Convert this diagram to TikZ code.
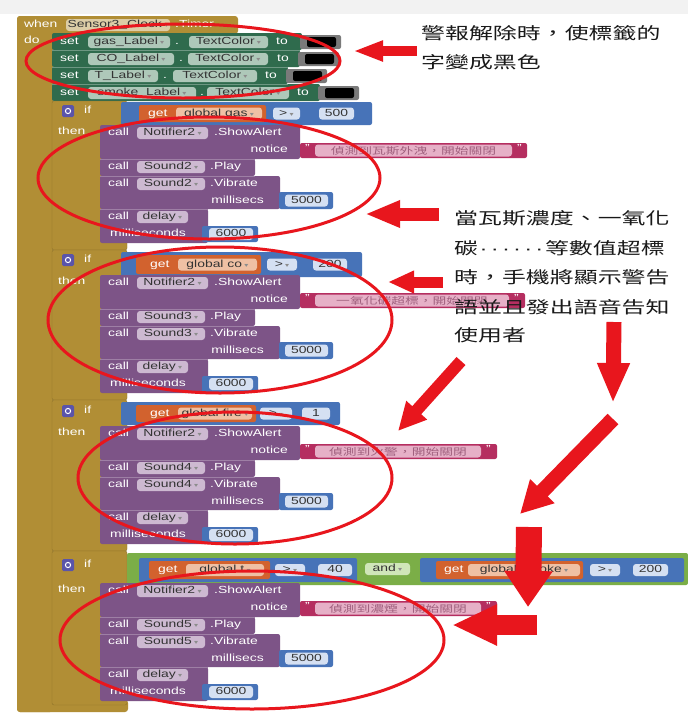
\documentclass[tikz,border=0pt]{standalone}
\usepackage{fontspec}
\usepackage{graphicx}
\setmainfont{Liberation Sans}
\newfontfamily\cjk{Noto Sans CJK TC}
\newfontfamily\dv{DejaVu Sans}
\newfontfamily\lib{Liberation Sans}
\usetikzlibrary{arrows.meta}
\definecolor{mus}{HTML}{B18E35}
\definecolor{musf}{HTML}{DCCDA6}
\definecolor{grn}{HTML}{2F6B4D}
\definecolor{grnf}{HTML}{AEC8B9}
\definecolor{pur}{HTML}{7D5487}
\definecolor{purf}{HTML}{CDB9D1}
\definecolor{blu}{HTML}{4773B8}
\definecolor{bluf}{HTML}{D5E0F2}
\definecolor{org}{HTML}{D2622E}
\definecolor{orgf}{HTML}{EFC0A4}
\definecolor{pnk}{HTML}{B52E60}
\definecolor{pnkf}{HTML}{E6B0C7}
\definecolor{pnkt}{HTML}{A0607E}
\definecolor{lgr}{HTML}{7BAE47}
\definecolor{lgrf}{HTML}{D0E6B9}
\definecolor{gearc}{HTML}{5A54AA}
\definecolor{redA}{HTML}{E8161D}
\definecolor{colg}{HTML}{7A7A7A}
\newcommand\hs[1]{\scalebox{1.35}[1]{#1}}
\newcommand\hc[1]{\scalebox{1.45}[1]{#1}}
\newcommand\dn{\,{\dv\fontsize{6}{6}\selectfont\textcolor{black!45}{▾}}}
\newcommand\mdt{{\lib\kern1.1pt·\kern1.1pt}}
\newcommand\tx[4]{\node[tx] (#1) at (#2,#3) {\hs{#4}};}
\newcommand\txe[4]{\node[tx,anchor=east] (#1) at (#2,#3) {\hs{#4}};}
\newcommand\fld[6]{\fill[#5,rounded corners=3pt] (#2,#4-6) rectangle (#3,#4+6);
  \node[ft] (#1) at ({(#2+#3)/2},#4) {\hs{#6}};}
\newcommand\ifhead[3]{% id, y of text
  \fill[gearc,rounded corners=1.5pt] (62,#2-6) rectangle (74,#2+6);
  \draw[white,line width=1pt] (68,#2) circle (2.6pt);
  \tx{if#1}{84}{#2}{if}}
\newcommand\ifbody[6]{% id, base, sound, pink right, pink field right, pink text
  \fill[pur,rounded corners=2pt] (100,#2) rectangle (300,#2+34);
  \fill[pur,rounded corners=2pt] (100,#2+34) rectangle (255,#2+51);
  \fill[pur,rounded corners=2pt] (100,#2+51) rectangle (280,#2+84);
  \fill[pur,rounded corners=2pt] (100,#2+84) rectangle (208,#2+118);
  \draw[pur!75!white,line width=.5pt] (100,#2+34) -- (255,#2+34) (100,#2+51) -- (255,#2+51) (100,#2+84) -- (208,#2+84);
  \tx{th#1}{58}{#2+7}{then}
  \tx{ca#1}{108}{#2+8}{call}
  \fld{no#1}{137}{208}{#2+8}{purf}{Notifier2\dn}
  \tx{sa#1}{214}{#2+8}{.ShowAlert}
  \txe{nt#1}{288}{#2+25}{notice}
  \fill[pnk,rounded corners=2pt] (300,#2+18) rectangle (#4,#2+33);
  \node[tx] (qa#1) at (305,#2+23.5) {\hs{"}};
  \fill[pnkf,rounded corners=3pt] (315,#2+19.5) rectangle (#5,#2+31.5);
  \node[pt] (pk#1) at ({(315+#5)/2},#2+25.5) {\hc{#6}};
  \node[tx] (qb#1) at (#5+5,#2+23.5) {\hs{"}};
  \tx{cb#1}{108}{#2+42}{call}
  \fld{sa#1x}{137}{205}{#2+42}{purf}{#3\dn}
  \tx{pl#1}{210}{#2+42}{.Play}
  \tx{cc#1}{108}{#2+59}{call}
  \fld{sb#1x}{137}{205}{#2+59}{purf}{#3\dn}
  \tx{vi#1}{210}{#2+59}{.Vibrate}
  \txe{ms#1}{264}{#2+76}{millisecs}
  \fill[blu,rounded corners=2pt] (279,#2+67) rectangle (333,#2+84);
  \fld{va#1}{285}{328}{#2+75.5}{bluf}{5000}
  \tx{cd#1}{108}{#2+92}{call}
  \fld{de#1}{137}{188}{#2+92}{purf}{delay\dn}
  \tx{ml#1}{110}{#2+109}{milliseconds}
  \fill[blu,rounded corners=2pt] (202,#2+101) rectangle (258,#2+117);
  \fld{vb#1}{209}{253}{#2+109}{bluf}{6000}}
\begin{document}
\begin{tikzpicture}[x=1pt,y=-1pt,
  tx/.style={inner sep=0pt,anchor=west,text=white,text height=7pt,text depth=2pt,font=\fontsize{10.3}{11}\selectfont},
  ft/.style={inner sep=0pt,text=black!80,text height=7pt,text depth=2pt,font=\fontsize{10.3}{11}\selectfont},
  pt/.style={inner sep=0pt,text=pnkt,font=\cjk\fontsize{9.5}{10}\selectfont},
  ct/.style={inner sep=0pt,anchor=west,text=black!90,font=\cjk\fontsize{16.5}{18}\selectfont},
  redl/.style={draw=redA,line width=3pt},
  rarr/.style={draw=redA,line cap=butt}]
\useasboundingbox (0,0) rectangle (688,713);
\fill[white] (0,0) rectangle (688,713);
\fill[black!5] (0,0) rectangle (688,14);
% event block
\fill[mus,rounded corners=3pt] (17,16) rectangle (238,34);
\fill[mus,rounded corners=3pt] (17,16) rectangle (53,712);
\fill[mus,rounded corners=3pt] (17,700) rectangle (128,712);
\tx{when}{24}{25}{when}
\fld{evf}{66}{170}{25}{musf}{Sensor3\_Clock\dn}
\tx{evt}{175}{25}{.Timer}
\tx{do}{24}{41}{do}
% set rows
\fill[grn,rounded corners=2pt] (52,33) rectangle (302,50);
\fill[grn,rounded corners=2pt] (52,50) rectangle (300,67);
\fill[grn,rounded corners=2pt] (52,67) rectangle (288,84);
\fill[grn,rounded corners=2pt] (52,84) rectangle (320,101);
\draw[grn!70!white,line width=.5pt] (52,50) -- (300,50) (52,67) -- (288,67) (52,84) -- (288,84);
\tx{s1}{60}{42}{set}
\fld{f1a}{88}{170}{42}{grnf}{gas\_Label\dn}
\tx{d1}{175}{42}{.}
\fld{f1b}{189}{268}{42}{grnf}{TextColor\dn}
\tx{to1}{276}{42}{to}
\fill[colg,rounded corners=2pt] (300,35) rectangle (341,49);
\fill[black,rounded corners=2pt] (307,37) rectangle (336,47);
\tx{s2}{60}{59}{set}
\fld{f2a}{88}{174}{59}{grnf}{CO\_Label\dn}
\tx{d2}{179}{59}{.}
\fld{f2b}{188}{268}{59}{grnf}{TextColor\dn}
\tx{to2}{277}{59}{to}
\fill[colg,rounded corners=2pt] (298,52) rectangle (339,66);
\fill[black,rounded corners=2pt] (305,54) rectangle (334,64);
\tx{s3}{60}{76}{set}
\fld{f3a}{88}{158}{76}{grnf}{T\_Label\dn}
\tx{d3}{163}{76}{.}
\fld{f3b}{173}{257}{76}{grnf}{TextColor\dn}
\tx{to3}{265}{76}{to}
\fill[colg,rounded corners=2pt] (286,69) rectangle (327,83);
\fill[black,rounded corners=2pt] (293,71) rectangle (322,81);
\tx{s4}{60}{93}{set}
\fld{f4a}{88}{196}{93}{grnf}{smoke\_Label\dn}
\tx{d4}{200}{93}{.}
\fld{f4b}{207}{289}{93}{grnf}{TextColor\dn}
\tx{to4}{297}{93}{to}
\fill[colg,rounded corners=2pt] (318,86) rectangle (359,100);
\fill[black,rounded corners=2pt] (325,88) rectangle (354,98);
% if blocks (mustard)
\fill[mus,draw=mus!80!black,line width=.4pt,rounded corners=2pt] (52,101) rectangle (127,250);
\fill[mus,draw=mus!80!black,line width=.4pt,rounded corners=2pt] (52,250) rectangle (127,400);
\fill[mus,draw=mus!80!black,line width=.4pt,rounded corners=2pt] (52,400) rectangle (127,551);
\fill[mus,draw=mus!80!black,line width=.4pt,rounded corners=2pt] (52,551) rectangle (127,705);
\ifhead{1}{111}{}
\ifhead{2}{260}{}
\ifhead{3}{411}{}
\ifhead{4}{565}{}
% conditions
\fill[blu,rounded corners=2pt] (121,102) rectangle (372,125);
\fill[org,rounded corners=2pt] (139,105) rectangle (266,122);
\tx{g1}{148}{113.5}{get}
\fld{g1f}{176}{262}{113.5}{orgf}{global gas\dn}
\fld{c1}{273}{300}{113.5}{bluf}{>\dn}
\fld{n1}{319}{354}{113.5}{bluf}{500}
\fill[blu,rounded corners=2pt] (121,252) rectangle (362,277);
\fill[org,rounded corners=2pt] (136,255) rectangle (261,274);
\tx{g2}{150}{264.5}{get}
\fld{g2f}{178}{257}{264.5}{orgf}{global co\dn}
\fld{c2}{267}{297}{264.5}{bluf}{>\dn}
\fld{n2}{313}{347}{264.5}{bluf}{200}
\fill[blu,rounded corners=2pt] (121,402) rectangle (340,425);
\fill[org,rounded corners=2pt] (136,405) rectangle (256,422);
\tx{g3}{150}{413.5}{get}
\fld{g3f}{178}{252}{413.5}{orgf}{global fire\dn}
\fld{c3}{260}{292}{413.5}{bluf}{>\dn}
\fld{n3}{302}{330}{413.5}{bluf}{1}
\fill[lgr,rounded corners=2pt] (127,553) rectangle (688,585);
\fill[blu,rounded corners=2pt] (139,558) rectangle (357,582);
\fill[org,rounded corners=2pt] (149,561) rectangle (270,579);
\tx{g4}{158}{570}{get}
\fld{g4f}{186}{264}{570}{orgf}{global t\dn}
\fld{c4}{275}{305}{570}{bluf}{>\dn}
\fld{n4}{318}{352}{570}{bluf}{40}
\fld{and}{365}{410}{569}{lgrf}{and\dn}
\fill[blu,rounded corners=2pt] (420,558) rectangle (684,582);
\fill[org,rounded corners=2pt] (436,561) rectangle (583,579);
\tx{g5}{444}{570}{get}
\fld{g5f}{468}{580}{570}{orgf}{global smoke\dn}
\fld{c5}{590}{620}{570}{bluf}{>\dn}
\fld{n5}{633}{668}{570}{bluf}{200}
% bodies
\ifbody{1}{125}{Sound2}{527}{512}{偵測到瓦斯外洩，開始關閉}
\ifbody{2}{275}{Sound3}{525}{509}{一氧化碳超標，開始關閉}
\ifbody{3}{426}{Sound4}{497}{481}{偵測到火警，開始關閉}
\ifbody{4}{583}{Sound5}{497}{481}{偵測到濃煙，開始關閉}
% annotations text
\node[ct] (ta) at (421,33) {\hc{警報解除時，使標籤的}};
\node[ct] (tb) at (421,62) {\hc{字變成黑色}};
\node[ct] (tc) at (454,218) {\hc{當瓦斯濃度、一氧化}};
\node[ct] (td) at (454,248) {\hc{碳\mdt\mdt\mdt\mdt\mdt\mdt 等數值超標}};
\node[ct] (te) at (454,277) {\hc{時，手機將顯示警告}};
\node[ct] (tf) at (454,307) {\hc{語並且發出語音告知}};
\node[ct] (tg) at (454,335) {\hc{使用者}};
% red ellipses
\draw[redl] (183,61) ellipse [x radius=157pt,y radius=37pt];
\draw[redl] (209,178) ellipse [x radius=171pt,y radius=61pt];
\draw[redl] (220,320) ellipse [x radius=172pt,y radius=73pt];
\draw[redl] (235,478) ellipse [x radius=157pt,y radius=66pt];
\draw[redl] (252,640) ellipse [x radius=192pt,y radius=69pt];
% red arrows
\coordinate (a1s) at (417,51); \coordinate (a1e) at (353,51);
\coordinate (a2s) at (439,214); \coordinate (a2e) at (365,214);
\coordinate (a3s) at (443,282); \coordinate (a3e) at (388,282);
\coordinate (a4s) at (461,361); \coordinate (a4e) at (398,431);
\coordinate (a5s) at (614,322); \coordinate (a5e) at (613,403);
\coordinate (a6s) at (613,419); \coordinate (a6e) at (520,514);
\coordinate (a7s) at (529,527); \coordinate (a7e) at (528,607);
\coordinate (a8s) at (537,625); \coordinate (a8e) at (452,625);
\draw[rarr,line width=10pt,-{Triangle[width=19pt,length=30pt]}] (a1s) -- (a1e);
\draw[rarr,line width=13pt,-{Triangle[width=25pt,length=35pt]}] (a2s) -- (a2e);
\draw[rarr,line width=11pt,-{Triangle[width=21pt,length=26pt]}] (a3s) -- (a3e);
\draw[rarr,line width=12pt,-{Triangle[width=26pt,length=28pt]}] (a4s) -- (a4e);
\draw[rarr,line width=15pt,-{Triangle[width=30pt,length=40pt]}] (a5s) -- (a5e);
\draw[rarr,line width=15pt,-{Triangle[width=32pt,length=32pt]}] (a6s) -- (a6e);
\draw[rarr,line width=26pt,-{Triangle[width=46pt,length=36pt]}] (a7s) -- (a7e);
\draw[rarr,line width=20pt,-{Triangle[width=38pt,length=45pt]}] (a8s) -- (a8e);
\end{tikzpicture}
\end{document}
